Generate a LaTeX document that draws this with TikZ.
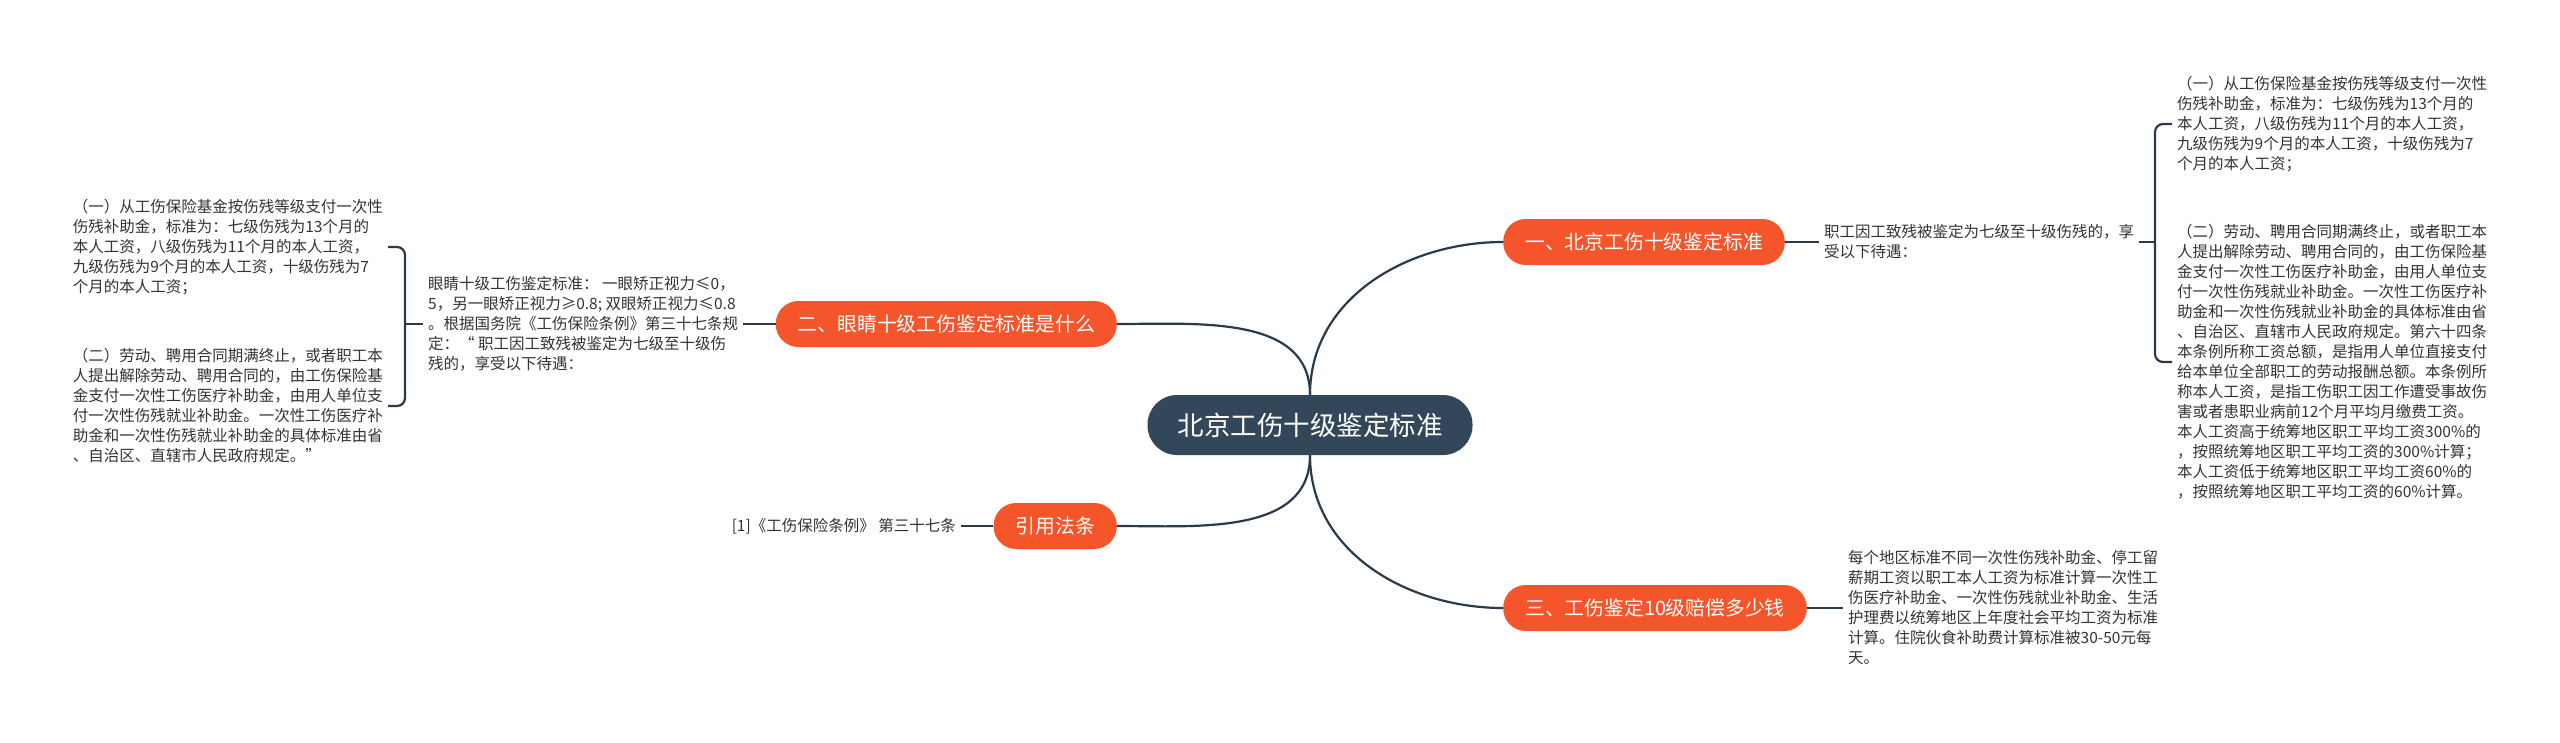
\documentclass[tikz,border=0pt]{standalone}
\usepackage{fontspec}
\newfontfamily\cjkfont{Noto Sans CJK SC}
\definecolor{branchred}{HTML}{F4552B}
\definecolor{rootblue}{HTML}{33475A}
\definecolor{linkblue}{HTML}{2B3A4A}
\definecolor{leafgray}{HTML}{333333}
\begin{document}
\begin{tikzpicture}[x=1pt,y=-1pt,
  root/.style={fill=rootblue,text=white,rounded corners=29.5pt,minimum height=60pt,inner xsep=30pt,inner ysep=0pt,font=\cjkfont\fontsize{26.5}{30}\selectfont},
  branch/.style={fill=branchred,text=white,rounded corners=22.5pt,minimum height=46pt,inner xsep=22pt,inner ysep=0pt,font=\cjkfont\fontsize{19.8}{24}\selectfont},
  leaf/.style={align=left,text=leafgray,inner xsep=5pt,inner ysep=0pt,font=\cjkfont\fontsize{15.5}{20}\selectfont},
  link/.style={draw=linkblue,line width=2.2pt}]
\path[fill=white] (0,0) rectangle (2560,742);
% center
\node[root] (c) at (1310,425) {北京工伤十级鉴定标准};
% branches
\node[branch,anchor=west] (b1) at (1503,242) {一、北京工伤十级鉴定标准};
\node[branch,anchor=east] (b2) at (1117,324) {二、眼睛十级工伤鉴定标准是什么};
\node[branch,anchor=west] (b3) at (1503,608) {三、工伤鉴定10级赔偿多少钱};
\node[branch,anchor=east] (b4) at (1117,526) {引用法条};
\draw[link] (c.north) to[out=90,in=180] (b1.west);
\draw[link] (c.north) to[out=90,in=0] (b2.east);
\draw[link] (c.south) to[out=-90,in=180] (b3.west);
\draw[link] (c.south) to[out=-90,in=0] (b4.east);
% right upper
\node[leaf,anchor=west] (t1) at (1819,242) {职工因工致残被鉴定为七级至十级伤残的，享\\受以下待遇：};
\node[leaf,anchor=west] (l1a) at (2172,124) {（一）从工伤保险基金按伤残等级支付一次性\\伤残补助金，标准为：七级伤残为13个月的\\本人工资，八级伤残为11个月的本人工资，\\九级伤残为9个月的本人工资，十级伤残为7\\个月的本人工资；};
\node[leaf,anchor=west] (l1b) at (2172,362) {（二）劳动、聘用合同期满终止，或者职工本\\人提出解除劳动、聘用合同的，由工伤保险基\\金支付一次性工伤医疗补助金，由用人单位支\\付一次性伤残就业补助金。一次性工伤医疗补\\助金和一次性伤残就业补助金的具体标准由省\\、自治区、直辖市人民政府规定。第六十四条\\本条例所称工资总额，是指用人单位直接支付\\给本单位全部职工的劳动报酬总额。本条例所\\称本人工资，是指工伤职工因工作遭受事故伤\\害或者患职业病前12个月平均月缴费工资。\\本人工资高于统筹地区职工平均工资300\%的\\，按照统筹地区职工平均工资的300\%计算；\\本人工资低于统筹地区职工平均工资60\%的\\，按照统筹地区职工平均工资的60\%计算。};
\coordinate (k1) at (2155,242);
\draw[link] (b1.east) -- (t1.west);
\draw[link] (t1.east) -- (k1);
\draw[link,rounded corners=8pt] (l1a.west) -| (k1) |- (l1b.west);
% left upper
\node[leaf,anchor=west] (t2) at (423,324) {眼睛十级工伤鉴定标准： 一眼矫正视力≤0，\\5，另一眼矫正视力≥0.8; 双眼矫正视力≤0.8\\。根据国务院《工伤保险条例》第三十七条规\\定：“ 职工因工致残被鉴定为七级至十级伤\\残的，享受以下待遇：};
\node[leaf,anchor=east] (l2a) at (388,247) {（一）从工伤保险基金按伤残等级支付一次性\\伤残补助金，标准为：七级伤残为13个月的\\本人工资，八级伤残为11个月的本人工资，\\九级伤残为9个月的本人工资，十级伤残为7\\个月的本人工资；};
\node[leaf,anchor=east] (l2b) at (388,406) {（二）劳动、聘用合同期满终止，或者职工本\\人提出解除劳动、聘用合同的，由工伤保险基\\金支付一次性工伤医疗补助金，由用人单位支\\付一次性伤残就业补助金。一次性工伤医疗补\\助金和一次性伤残就业补助金的具体标准由省\\、自治区、直辖市人民政府规定。”};
\coordinate (k2) at (405,324);
\draw[link] (b2.west) -- (t2.east);
\draw[link] (t2.west) -- (k2);
\draw[link,rounded corners=8pt] (l2a.east) -| (k2) |- (l2b.east);
% lower
\node[leaf,anchor=west] (t3) at (1843,608) {每个地区标准不同一次性伤残补助金、停工留\\薪期工资以职工本人工资为标准计算一次性工\\伤医疗补助金、一次性伤残就业补助金、生活\\护理费以统筹地区上年度社会平均工资为标准\\计算。住院伙食补助费计算标准被30-50元每\\天。};
\draw[link] (b3.east) -- (t3.west);
\node[leaf,anchor=east] (tr) at (961,526) {[1]《工伤保险条例》 第三十七条};
\draw[link] (b4.west) -- (tr.east);
\end{tikzpicture}
\end{document}
